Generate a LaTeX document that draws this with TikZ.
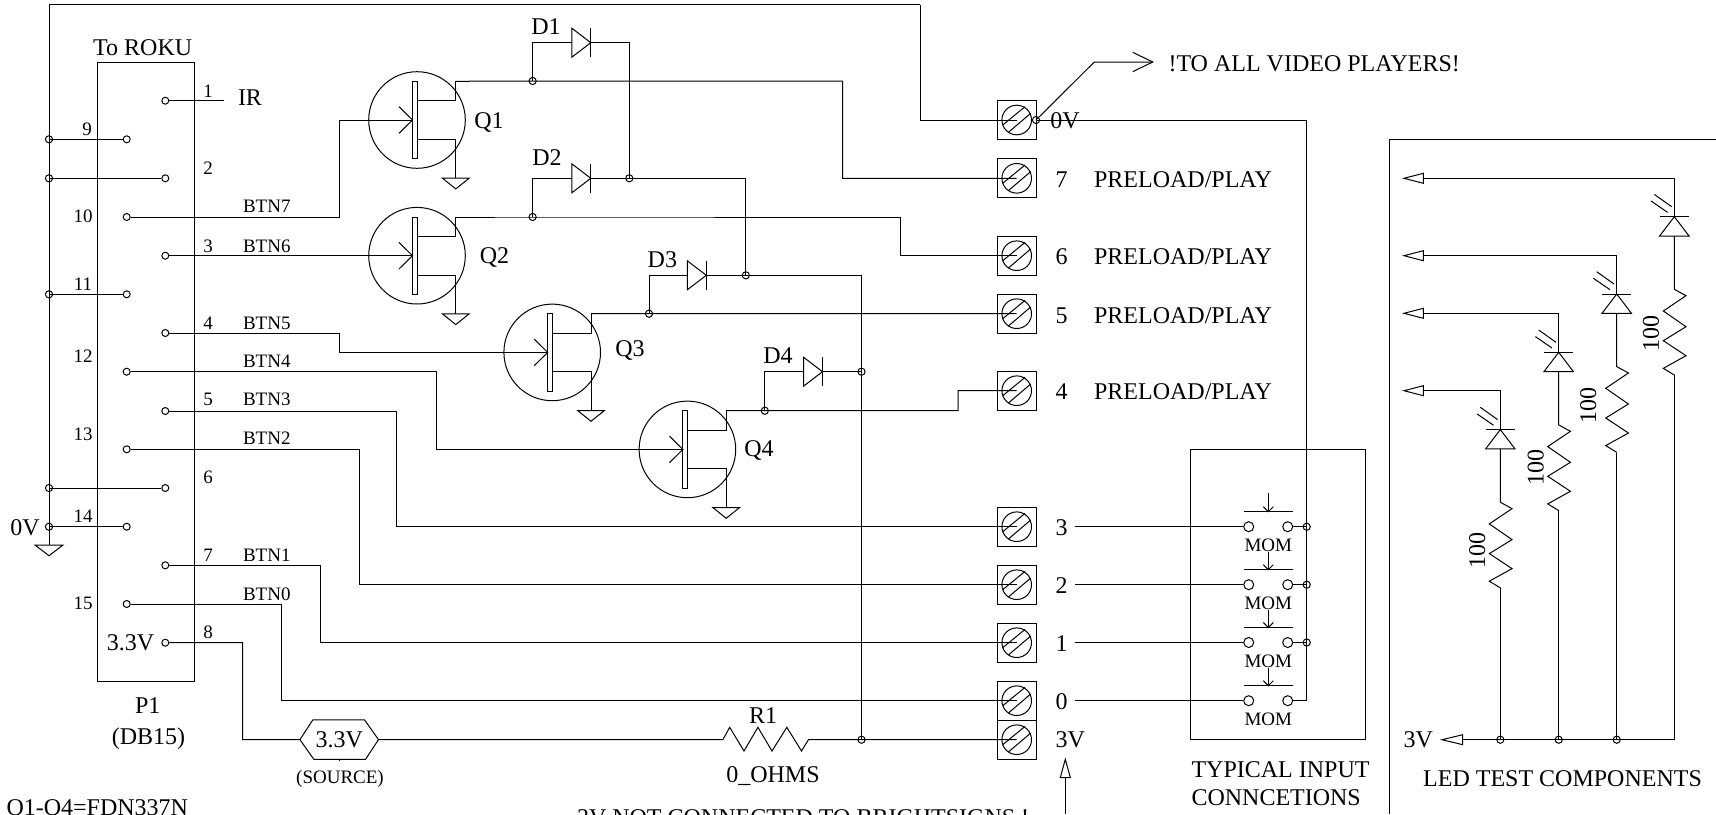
\documentclass[tikz,border=0pt]{standalone}
\usepackage{fontspec}
\setmainfont{Liberation Serif}
\tikzset{
  lab/.style={font=\fontsize{12}{13}\selectfont,inner sep=0pt,text height=7.9pt,text depth=0pt},
  sml/.style={font=\fontsize{9.5}{11}\selectfont,inner sep=0pt,text height=6.3pt,text depth=0pt},
  pinc/.style={circle,draw,inner sep=0pt,minimum size=3.5pt},
  junc/.style={circle,draw,inner sep=0pt,minimum size=3.6pt},
  swc/.style={circle,draw,inner sep=0pt,minimum size=5pt},
  fetbody/.style={circle,draw,inner sep=0pt,minimum size=48.3pt},
  termbox/.style={rectangle,draw,inner sep=0pt,minimum width=19.4pt,minimum height=19.4pt},
  screw/.style={circle,draw,inner sep=0pt,minimum size=14.8pt},
}
\newcommand{\gndsym}[3]{% x, ytop, half width
  \draw (#1-#3,#2) -- (#1+#3,#2) -- (#1,#2+10.7) -- cycle;}
\newcommand{\fet}[3]{% name, cx, cy
  \begin{scope}[shift={(#2,#3)}]
    \node[fetbody] (#1) at (0,0) {};
    \draw (-4.5,-38.7) rectangle (0.5,38.7);
    \coordinate (#1g) at (-4.5,0);
    \coordinate (#1d) at (38.8,-38.7);
    \coordinate (#1s) at (38.8,58.2);
    \draw (-18,-13.3) -- (-4.5,0) -- (-18,13.3);
    \draw (#1d) -- (38.8,-19.3) -- (0.5,-19.3);
    \draw (#1s) -- (38.8,19.3) -- (0.5,19.3);
    \gndsym{38.8}{58.2}{13.3}
  \end{scope}}
\newcommand{\diode}[3]{% name, left x, y
  \begin{scope}[shift={(#2,#3)}]
    \coordinate (#1a) at (0,0);
    \coordinate (#1c) at (19,0);
    \draw (0,-14.5) -- (19,0) -- (0,14.5) -- cycle;
    \draw (19,-14.5) -- (19,14.5);
  \end{scope}}
\newcommand{\terminal}[2]{% name, y
  \node[termbox] (#1box) at (1016.7,#2) {};
  \node[screw] (#1scr) at (1016.7,#2) {};
  \coordinate (#1) at (1016.7,#2);
  \begin{scope}[shift={(1016.7,#2)}]
    \draw (-14,5) -- (8.3,-13.3);
    \draw (-8.3,12.3) -- (14,-6.7);
  \end{scope}}
\newcommand{\switchsym}[3]{% name, y, top of stem
  \node[swc] (#1L) at (1248.7,#2) {};
  \node[swc] (#1R) at (1287.7,#2) {};
  \draw (1243.7,#2-15) -- (1292.7,#2-15);
  \coordinate (#1st) at (1268.3,#3);
  \coordinate (#1pl) at (1268.3,#2-15);
  \draw (#1st) -- (#1pl);
  \draw (1263.3,#2-20) -- (#1pl) -- (1273.3,#2-20);
  \node[sml] at (1268.3,#2+18.5) {MOM};}
\newcommand{\ledleg}[4]{% name, x, bar y, wire y
  \begin{scope}[shift={(#2,#3)}]
    \coordinate (#1top) at (0,0);
    \coordinate (#1low) at (0,158.7);
    \draw (-14.7,0) -- (14.7,0);
    \draw (0,0) -- (-14.7,19.3) -- (14.7,19.3) -- cycle;
    \draw (0,19.3) -- (0,72.6) -- (11.7,79) -- (-11,94.3) -- (11.7,110) -- (-11,124) -- (11.7,139) -- (-11,151.6) -- (0,158.3) -- (#1low);
    \draw (-20,-22.3) -- (-2.7,-10);
    \draw (-23.3,-15.7) -- (-6.7,-4.3);
  \end{scope}
  \coordinate (#1t) at (1423.3,#4);
  \draw (1404,#4) -- (1423.3,#4-5) -- (1423.3,#4+5) -- cycle;
  \draw (#1t) -| (#1top);}
\begin{document}
\begin{tikzpicture}[x=0.5pt,y=-0.5pt,line width=0.5pt]
\useasboundingbox (0,0) rectangle (1716,814);
% connector P1
\node[rectangle,draw,inner sep=0pt,minimum width=48.4pt,minimum height=309.5pt] (P1) at (146,371.5) {};
\node[lab] (roku) at (142.7,48) {To ROKU};
\node[lab] (p1name) at (147.7,706) {P1};
\node[lab] (db15) at (148.5,737) {(DB15)};
\node[lab] (v33) at (130.5,643) {3.3V};
% pins
\node[pinc] (p1) at (165.3,100.7) {};
\node[pinc] (p2) at (165.3,178.3) {};
\node[pinc] (p3) at (165.3,255.7) {};
\node[pinc] (p4) at (165.3,333) {};
\node[pinc] (p5) at (165.3,411) {};
\node[pinc] (p6) at (165.3,488) {};
\node[pinc] (p7) at (165.3,565.3) {};
\node[pinc] (p8) at (165.3,642.7) {};
\node[pinc] (p9) at (126.7,139.3) {};
\node[pinc] (p10) at (126.7,217) {};
\node[pinc] (p11) at (126.7,294.3) {};
\node[pinc] (p12) at (126.7,371.7) {};
\node[pinc] (p13) at (126.7,449.3) {};
\node[pinc] (p14) at (126.7,526.7) {};
\node[pinc] (p15) at (126.7,604) {};
% pin numbers
\node[sml] (n1) at (208,90.7) {1};
\node[sml] (n2) at (208,167.7) {2};
\node[sml] (n3) at (208,246) {3};
\node[sml] (n4) at (208,322.7) {4};
\node[sml] (n5) at (208,399.3) {5};
\node[sml] (n6) at (208,477) {6};
\node[sml] (n7) at (208,555) {7};
\node[sml] (n8) at (208,631.7) {8};
\node[sml] (n9) at (87,129) {9};
\node[sml] (n10) at (83,216) {10};
\node[sml] (n11) at (83,284) {11};
\node[sml] (n12) at (83,356) {12};
\node[sml] (n13) at (83,434) {13};
\node[sml] (n14) at (83,516) {14};
\node[sml] (n15) at (83,602.7) {15};
\node[lab] (ir) at (250,98) {IR};
\node[lab] (zerov) at (25,527.7) {0V};
% signal names
\node[sml] (b7) at (266.8,205.7) {BTN7};
\node[sml] (b6) at (266.8,246) {BTN6};
\node[sml] (b5) at (266.8,322.7) {BTN5};
\node[sml] (b4) at (266.8,360.7) {BTN4};
\node[sml] (b3) at (266.8,399.3) {BTN3};
\node[sml] (b2) at (266.8,438.3) {BTN2};
\node[sml] (b1) at (266.8,555) {BTN1};
\node[sml] (b0) at (266.8,593.7) {BTN0};
% ground rail
\node[junc] (j9) at (49,139.3) {};
\node[junc] (j2) at (49,178.3) {};
\node[junc] (j11) at (49,294.3) {};
\node[junc] (j6) at (49,488) {};
\node[junc] (j14) at (49,526.7) {};
\coordinate (gl) at (49,545);
\coordinate (rtl) at (49,4.5);
\coordinate (rtr) at (920,4.5);
\gndsym{49}{545}{14}
\draw (gl) -- (rtl) -- (rtr);
\draw (j9.center) -- (p9);
\draw (j2.center) -- (p2);
\draw (j11.center) -- (p11);
\draw (j6.center) -- (p6);
\draw (j14.center) -- (p14);
\coordinate (irend) at (223.5,100.7);
\draw (p1) -- (irend);
% transistors
\fet{Q1}{417}{120}
\fet{Q2}{417}{255.7}
\fet{Q3}{552.2}{352.4}
\fet{Q4}{687.4}{449.4}
\node[lab] (q1l) at (489,120.7) {Q1};
\node[lab] (q2l) at (494.5,256) {Q2};
\node[lab] (q3l) at (630,348.3) {Q3};
\node[lab] (q4l) at (759,449) {Q4};
% terminals
\terminal{t0V}{120}
\terminal{t7}{178.3}
\terminal{t6}{255.7}
\terminal{t5}{313.7}
\terminal{t4}{390.7}
\terminal{t3}{526.7}
\terminal{t2}{584.7}
\terminal{t1}{642.7}
\terminal{t0}{700.7}
\terminal{t3V}{739.7}
\node[lab] at (1061.7,180) {7};
\node[lab] at (1061.7,257) {6};
\node[lab] at (1061.7,315.5) {5};
\node[lab] at (1061.7,392) {4};
\node[lab] at (1061.7,527.7) {3};
\node[lab] at (1061.7,585.7) {2};
\node[lab] at (1061.7,643.7) {1};
\node[lab] at (1061.7,701.7) {0};
\node[lab] at (1070.3,739.3) {3V};
\node[lab] at (1065,121) {0V};
\node[lab,anchor=west] at (1093.6,180) {PRELOAD/PLAY};
\node[lab,anchor=west] at (1093.6,257) {PRELOAD/PLAY};
\node[lab,anchor=west] at (1093.6,315.5) {PRELOAD/PLAY};
\node[lab,anchor=west] at (1093.6,392) {PRELOAD/PLAY};
% diodes
\diode{D1}{571.8}{42.7}
\diode{D2}{571.8}{178.3}
\diode{D3}{687.3}{275.3}
\diode{D4}{803.5}{371.7}
\node[lab] at (546,27) {D1};
\node[lab] at (547,158) {D2};
\node[lab] at (662.4,260) {D3};
\node[lab] at (778,356) {D4};
% junctions
\node[junc] (jd1) at (532.6,81) {};
\node[junc] (jd2) at (532.6,217) {};
\node[junc] (jd3) at (649,313.7) {};
\node[junc] (jd4) at (764.8,410.7) {};
\node[junc] (jc2) at (629.3,178.3) {};
\node[junc] (jc3) at (745.8,275.3) {};
\node[junc] (jc4) at (861.5,371.7) {};
\node[junc] (j3V) at (861.5,739.7) {};
% drain wires
\draw (Q1d) -- (jd1.center) -- (842.5,81) |- (t7);
\draw (Q2d) -- (jd2.center) -- (900.6,217) |- (t6);
\draw (Q3d) -- (jd3.center) -- (t5);
\draw (Q4d) -- (jd4.center) -- (958,410.7) |- (t4);
\draw (jd1.center) |- (D1a);
\draw (jd2.center) |- (D2a);
\draw (jd3.center) |- (D3a);
\draw (jd4.center) |- (D4a);
\draw (D1c) -| (jc2.center);
\draw (D2c) -- (jc2.center) -| (jc3.center);
\draw (D3c) -- (jc3.center) -| (j3V.center);
\draw (D4c) -- (jc4.center);
% gates and inputs
\draw (p10) -| (339.5,120) -- (Q1g);
\draw (p3) -- (Q2g);
\draw (p4) -| (339.5,352.4) -- (Q3g);
\draw (p12) -| (436.3,449.4) -- (Q4g);
\draw (p5) -| (396.9,526.7) -- (t3);
\draw (p13) -| (359,584.7) -- (t2);
\draw (p7) -| (320.3,642.7) -- (t1);
\draw (p15) -| (281.3,700.7) -- (t0);
% source
\node[lab,minimum width=38.8pt,minimum height=19.8pt] (src) at (339.2,739.6) {3.3V};
\draw (src.west) -- ++(13,-19.8) -- ++(51.6,0) -- (src.east) -- ++(-13,19.8) -- ++(-51.6,0) -- cycle;
\coordinate (srctick) at (339.2,761);
\draw (src.south) -- (srctick);
\node[sml] (srcn) at (340,776.7) {(SOURCE)};
\draw (p8) -| (242.6,739.7) -- (src);
% R1
\coordinate (r1a) at (722.8,739.7);
\coordinate (r1b) at (808.4,739.7);
\draw (src) -- (r1a) -- (729.7,727.3) -- (744,751) -- (757.9,727.3) -- (772,751) -- (786.8,727.3) -- (801.5,751) -- (r1b) -- (j3V.center) -- (t3V);
\node[lab] (r1l) at (763,716) {R1};
\node[lab] (r1v) at (773,775) {0\_OHMS};
% notes
\node[lab,anchor=west] at (6,808) {Q1-Q4=FDN337N};
\node[lab,anchor=west] at (576.5,818) {3V NOT CONNECTED TO BRIGHTSIGNS !};
% 3V arrow
\coordinate (a3b) at (1065.3,814);
\coordinate (a3t) at (1065.3,777.5);
\draw (1065.3,759.3) -- (1060.3,777.5) -- (1070.3,777.5) -- cycle;
\draw (a3b) -- (a3t);
% 0V to all
\node[junc] (j0V) at (1036,120) {};
\coordinate (arr1) at (1094.3,62);
\coordinate (arr2) at (1152.7,62);
\draw (j0V.center) -- (arr1) -- (arr2);
\draw (1132.7,52.3) -- (arr2) -- (1132.7,71.7);
\node[lab,anchor=west] at (1168,63.3) {!TO ALL VIDEO PLAYERS!};
\draw (rtr) |- (t0V);
% switches
\node[rectangle,draw,inner sep=0pt,minimum width=87.2pt,minimum height=145.2pt] (typ) at (1277.9,594.5) {};
\switchsym{s3}{526.7}{492.7}
\switchsym{s2}{584.7}{551.7}
\switchsym{s1}{642.5}{610}
\switchsym{s0}{700.7}{668.3}
\node[junc] (js3) at (1306.7,526.7) {};
\node[junc] (js2) at (1306.7,584.7) {};
\node[junc] (js1) at (1306.7,642.5) {};
\coordinate (w3) at (1075,526.7);
\coordinate (w2) at (1075,584.7);
\coordinate (w1) at (1075,642.5);
\coordinate (w0) at (1075,700.7);
\draw (w3) -- (s3L);
\draw (w2) -- (s2L);
\draw (w1) -- (s1L);
\draw (w0) -- (s0L);
\draw (s3R) -- (js3.center);
\draw (s2R) -- (js2.center);
\draw (s1R) -- (js1.center);
\draw (j0V.center) -- (1306.7,120) |- (s0R);
\node[lab,anchor=west] at (1191,770) {TYPICAL INPUT};
\node[lab,anchor=west] at (1191,797.7) {CONNCETIONS};
% LED section
\coordinate (bx1) at (1716,139.3);
\coordinate (bx2) at (1389,139.3);
\coordinate (bx3) at (1389,814);
\draw (bx1) -- (bx2) -- (bx3);
\ledleg{la}{1674.3}{216.7}{178.3}
\ledleg{lb}{1616.7}{294}{255.7}
\ledleg{lc}{1558.7}{352.3}{313.3}
\ledleg{ld}{1500.3}{429.6}{390.7}
\node[lab,rotate=90] at (1651,333) {100};
\node[lab,rotate=90] at (1588.3,405) {100};
\node[lab,rotate=90] at (1535.7,467.7) {100};
\node[lab,rotate=90] at (1477.3,550.7) {100};
\node[junc] (ja) at (1500.3,739.7) {};
\node[junc] (jb) at (1558.7,739.7) {};
\node[junc] (jc) at (1616.7,739.7) {};
\coordinate (v3t) at (1462.7,739.7);
\draw (1442,739.7) -- (1462.7,734.7) -- (1462.7,744.7) -- cycle;
\draw (v3t) -- (ja.center) -- (jb.center) -- (jc.center) -| (lalow);
\draw (ldlow) -- (ja.center);
\draw (lclow) -- (jb.center);
\draw (lblow) -- (jc.center);
\node[lab] at (1418.3,740) {3V};
\node[lab] at (1562.5,779) {LED TEST COMPONENTS};
\end{tikzpicture}
\end{document}
